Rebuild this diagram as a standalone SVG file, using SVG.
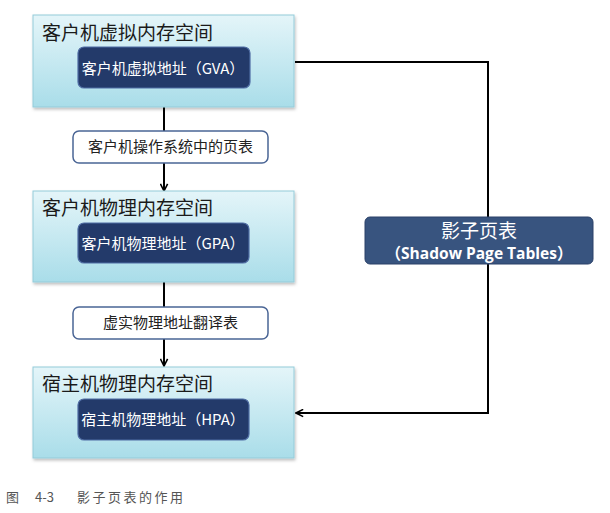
<svg xmlns="http://www.w3.org/2000/svg" width="610" height="513" viewBox="0 0 610 513">
<defs>
<linearGradient id="cyan" x1="0" y1="0" x2="0" y2="1">
<stop offset="0" stop-color="#e4f5f9"/>
<stop offset="1" stop-color="#a9dde9"/>
</linearGradient>
<filter id="sh" x="-10%" y="-10%" width="120%" height="130%">
<feDropShadow dx="1" dy="2" stdDeviation="1.5" flood-color="#000" flood-opacity="0.25"/>
</filter>
<marker id="ah" viewBox="0 0 10 10" refX="9" refY="5" markerWidth="9" markerHeight="9" markerUnits="userSpaceOnUse" orient="auto">
<path d="M1,1 L9,5 L1,9" fill="none" stroke="#000" stroke-width="1.8"/>
</marker>
<style>
.outer{fill:url(#cyan);stroke:#94cbd9;stroke-width:1;filter:url(#sh)}
.inner{fill:#233a6a;stroke:#4f6ca3;stroke-width:1.2}
.lbl{fill:#fff;stroke:#4a6595;stroke-width:1.5}
.shadow{fill:#38547f;stroke:#2a4068;stroke-width:1}
.title{font-family:"Noto Sans CJK SC",sans-serif;font-size:19px;fill:#1a1a1a}
.itxt{font-family:"Noto Sans CJK SC",sans-serif;font-size:15px;fill:#fff;text-anchor:middle}
.ltxt{font-family:"Noto Sans CJK SC",sans-serif;font-size:15px;fill:#222;text-anchor:middle}
.stxt{font-family:"Noto Sans CJK SC",sans-serif;font-size:19px;fill:#fff;text-anchor:middle}
.stxtb{font-family:"Open Sans","Noto Sans CJK SC",sans-serif;font-size:16px;font-weight:bold;fill:#fff;text-anchor:middle}
.cap{font-family:"Noto Sans CJK SC",sans-serif;font-size:13px;fill:#555}
.conn{fill:none;stroke:#000;stroke-width:2}
</style>
</defs>
<rect width="610" height="513" fill="#fff"/>
<g id="connectors">
<line class="conn" x1="164" y1="107" x2="164" y2="131"/>
<line class="conn" x1="164" y1="163" x2="164" y2="191" marker-end="url(#ah)"/>
<line class="conn" x1="164" y1="282" x2="164" y2="307"/>
<line class="conn" x1="164" y1="339" x2="164" y2="366" marker-end="url(#ah)"/>
<polyline class="conn" points="295,62 488,62 488,413 296,413" marker-end="url(#ah)"/>
</g>
<g id="gva-space">
<rect class="outer" x="33" y="15" width="261" height="92"/>
<text class="title" x="42" y="40">客户机虚拟内存空间</text>
<rect class="inner" x="78" y="47" width="172" height="41" rx="6"/>
<text class="itxt" x="163" y="74">客户机虚拟地址（GVA）</text>
</g>
<g id="guest-pt">
<rect class="lbl" x="73" y="131" width="195" height="32" rx="6"/>
<text class="ltxt" x="170.5" y="152">客户机操作系统中的页表</text>
</g>
<g id="gpa-space">
<rect class="outer" x="33" y="191" width="261" height="91"/>
<text class="title" x="42" y="215">客户机物理内存空间</text>
<rect class="inner" x="78" y="223" width="171" height="40" rx="6"/>
<text class="itxt" x="163" y="249">客户机物理地址（GPA）</text>
</g>
<g id="p2m">
<rect class="lbl" x="73" y="307" width="195" height="32" rx="6"/>
<text class="ltxt" x="170.5" y="328">虚实物理地址翻译表</text>
</g>
<g id="hpa-space">
<rect class="outer" x="33" y="367" width="261" height="91"/>
<text class="title" x="42" y="391">宿主机物理内存空间</text>
<rect class="inner" x="78" y="399" width="171" height="41" rx="6"/>
<text class="itxt" x="163" y="425">宿主机物理地址（HPA）</text>
</g>
<g id="shadow-pt">
<rect class="shadow" x="365" y="217" width="228" height="47" rx="5"/>
<text class="stxt" x="479" y="238">影子页表</text>
<text class="stxtb" x="479" y="259" textLength="187" lengthAdjust="spacingAndGlyphs">（Shadow Page Tables）</text>
</g>
<g id="caption">
<text class="cap" x="6" y="502">图</text>
<text class="cap" x="35" y="502">4-3</text>
<text class="cap" x="77" y="502" letter-spacing="2.5">影子页表的作用</text>
</g>
</svg>
